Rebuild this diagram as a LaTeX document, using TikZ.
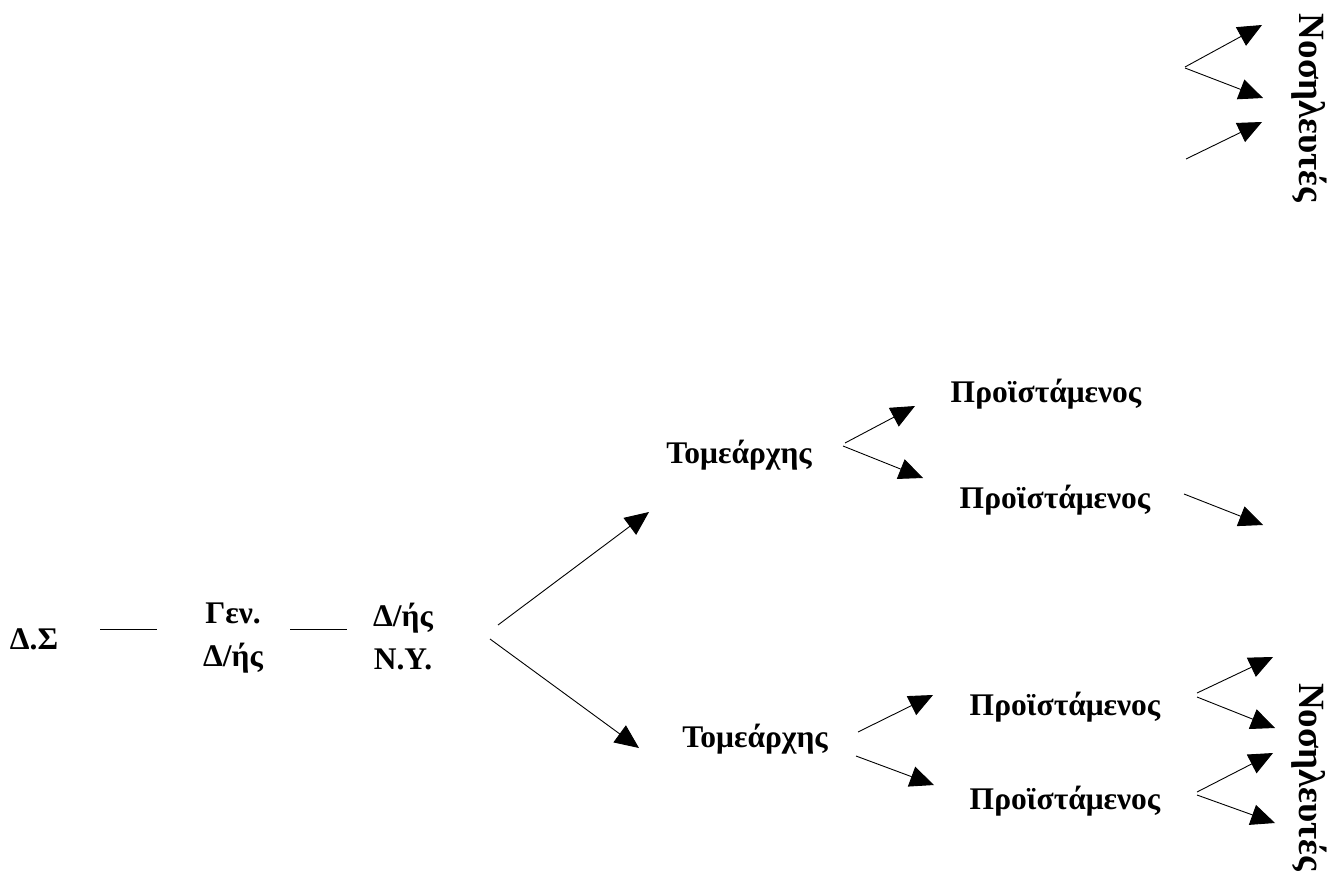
\documentclass[tikz,border=0pt]{standalone}
\usepackage{fontspec}
\setmainfont{Liberation Serif}
\usetikzlibrary{arrows.meta}
\tikzset{
  lbl/.style={font=\fontsize{31.5}{43}\selectfont\bfseries, inner sep=0pt, anchor=base},
  stack/.style={font=\fontsize{31.5}{43}\selectfont\bfseries, inner sep=0pt, align=center, anchor=center},
  vlbl/.style={font=\fontsize{37}{40}\selectfont\bfseries, inner sep=0pt, rotate=-90, anchor=center},
  link/.style={line width=0.9pt},
  arr/.style={line width=0.9pt, -{Triangle[length=24pt,width=21pt]}}
}
\begin{document}
\begin{tikzpicture}[x=1pt,y=-1pt]
\useasboundingbox (0,0) rectangle (1329,872);

% labels
\node[lbl] (ds) at (34,649) {Δ.Σ};
\node[stack] (gen) at (233,638) {Γεν.\\Δ/ής};
\node[stack] (dny) at (403,637) {Δ/ής\\Ν.Υ.};
\node[lbl] (tom1) at (739,463) {Τομεάρχης};
\node[lbl] (tom2) at (755,747) {Τομεάρχης};
\node[lbl] (pr1) at (1046,402) {Προϊστάμενος};
\node[lbl] (pr2) at (1055,508) {Προϊστάμενος};
\node[lbl] (pr3) at (1065,715) {Προϊστάμενος};
\node[lbl] (pr4) at (1065,809) {Προϊστάμενος};
\node[vlbl] (nos1) at (1309,108) {Νοσηλευτές};
\node[vlbl] (nos2) at (1309,777) {Νοσηλευτές};

% connector end points
\coordinate (l1a) at (100,629);  \coordinate (l1b) at (157,629);
\coordinate (l2a) at (290,629);  \coordinate (l2b) at (347,629);
\coordinate (d1) at (498,625);   \coordinate (t1in) at (649,512);
\coordinate (d2) at (490,639);   \coordinate (t2in) at (639,748);
\coordinate (t1a) at (845,443);  \coordinate (p1in) at (915,406);
\coordinate (t1b) at (843,446);  \coordinate (p2in) at (923,478);
\coordinate (p2o) at (1184,494); \coordinate (p2t) at (1263,525);
\coordinate (t2a) at (858,732);  \coordinate (p3in) at (933,695);
\coordinate (t2b) at (856,756);  \coordinate (p4in) at (934,785);
\coordinate (p3a) at (1197,693); \coordinate (n3a) at (1273,657);
\coordinate (p3b) at (1197,697); \coordinate (n3b) at (1275,728);
\coordinate (p4a) at (1197,792); \coordinate (n4a) at (1273,753);
\coordinate (p4b) at (1197,795); \coordinate (n4b) at (1275,823);
\coordinate (u1) at (1185,67);   \coordinate (n1a) at (1262,25);
\coordinate (u2) at (1185,68);   \coordinate (n1b) at (1263,98);
\coordinate (u3) at (1186,159);  \coordinate (n1c) at (1262,122);

% plain links
\draw[link] (l1a) -- (l1b);
\draw[link] (l2a) -- (l2b);

% arrows
\draw[arr] (d1) -- (t1in);
\draw[arr] (d2) -- (t2in);
\draw[arr] (t1a) -- (p1in);
\draw[arr] (t1b) -- (p2in);
\draw[arr] (p2o) -- (p2t);
\draw[arr] (t2a) -- (p3in);
\draw[arr] (t2b) -- (p4in);
\draw[arr] (p3a) -- (n3a);
\draw[arr] (p3b) -- (n3b);
\draw[arr] (p4a) -- (n4a);
\draw[arr] (p4b) -- (n4b);
\draw[arr] (u1) -- (n1a);
\draw[arr] (u2) -- (n1b);
\draw[arr] (u3) -- (n1c);
\end{tikzpicture}
\end{document}
